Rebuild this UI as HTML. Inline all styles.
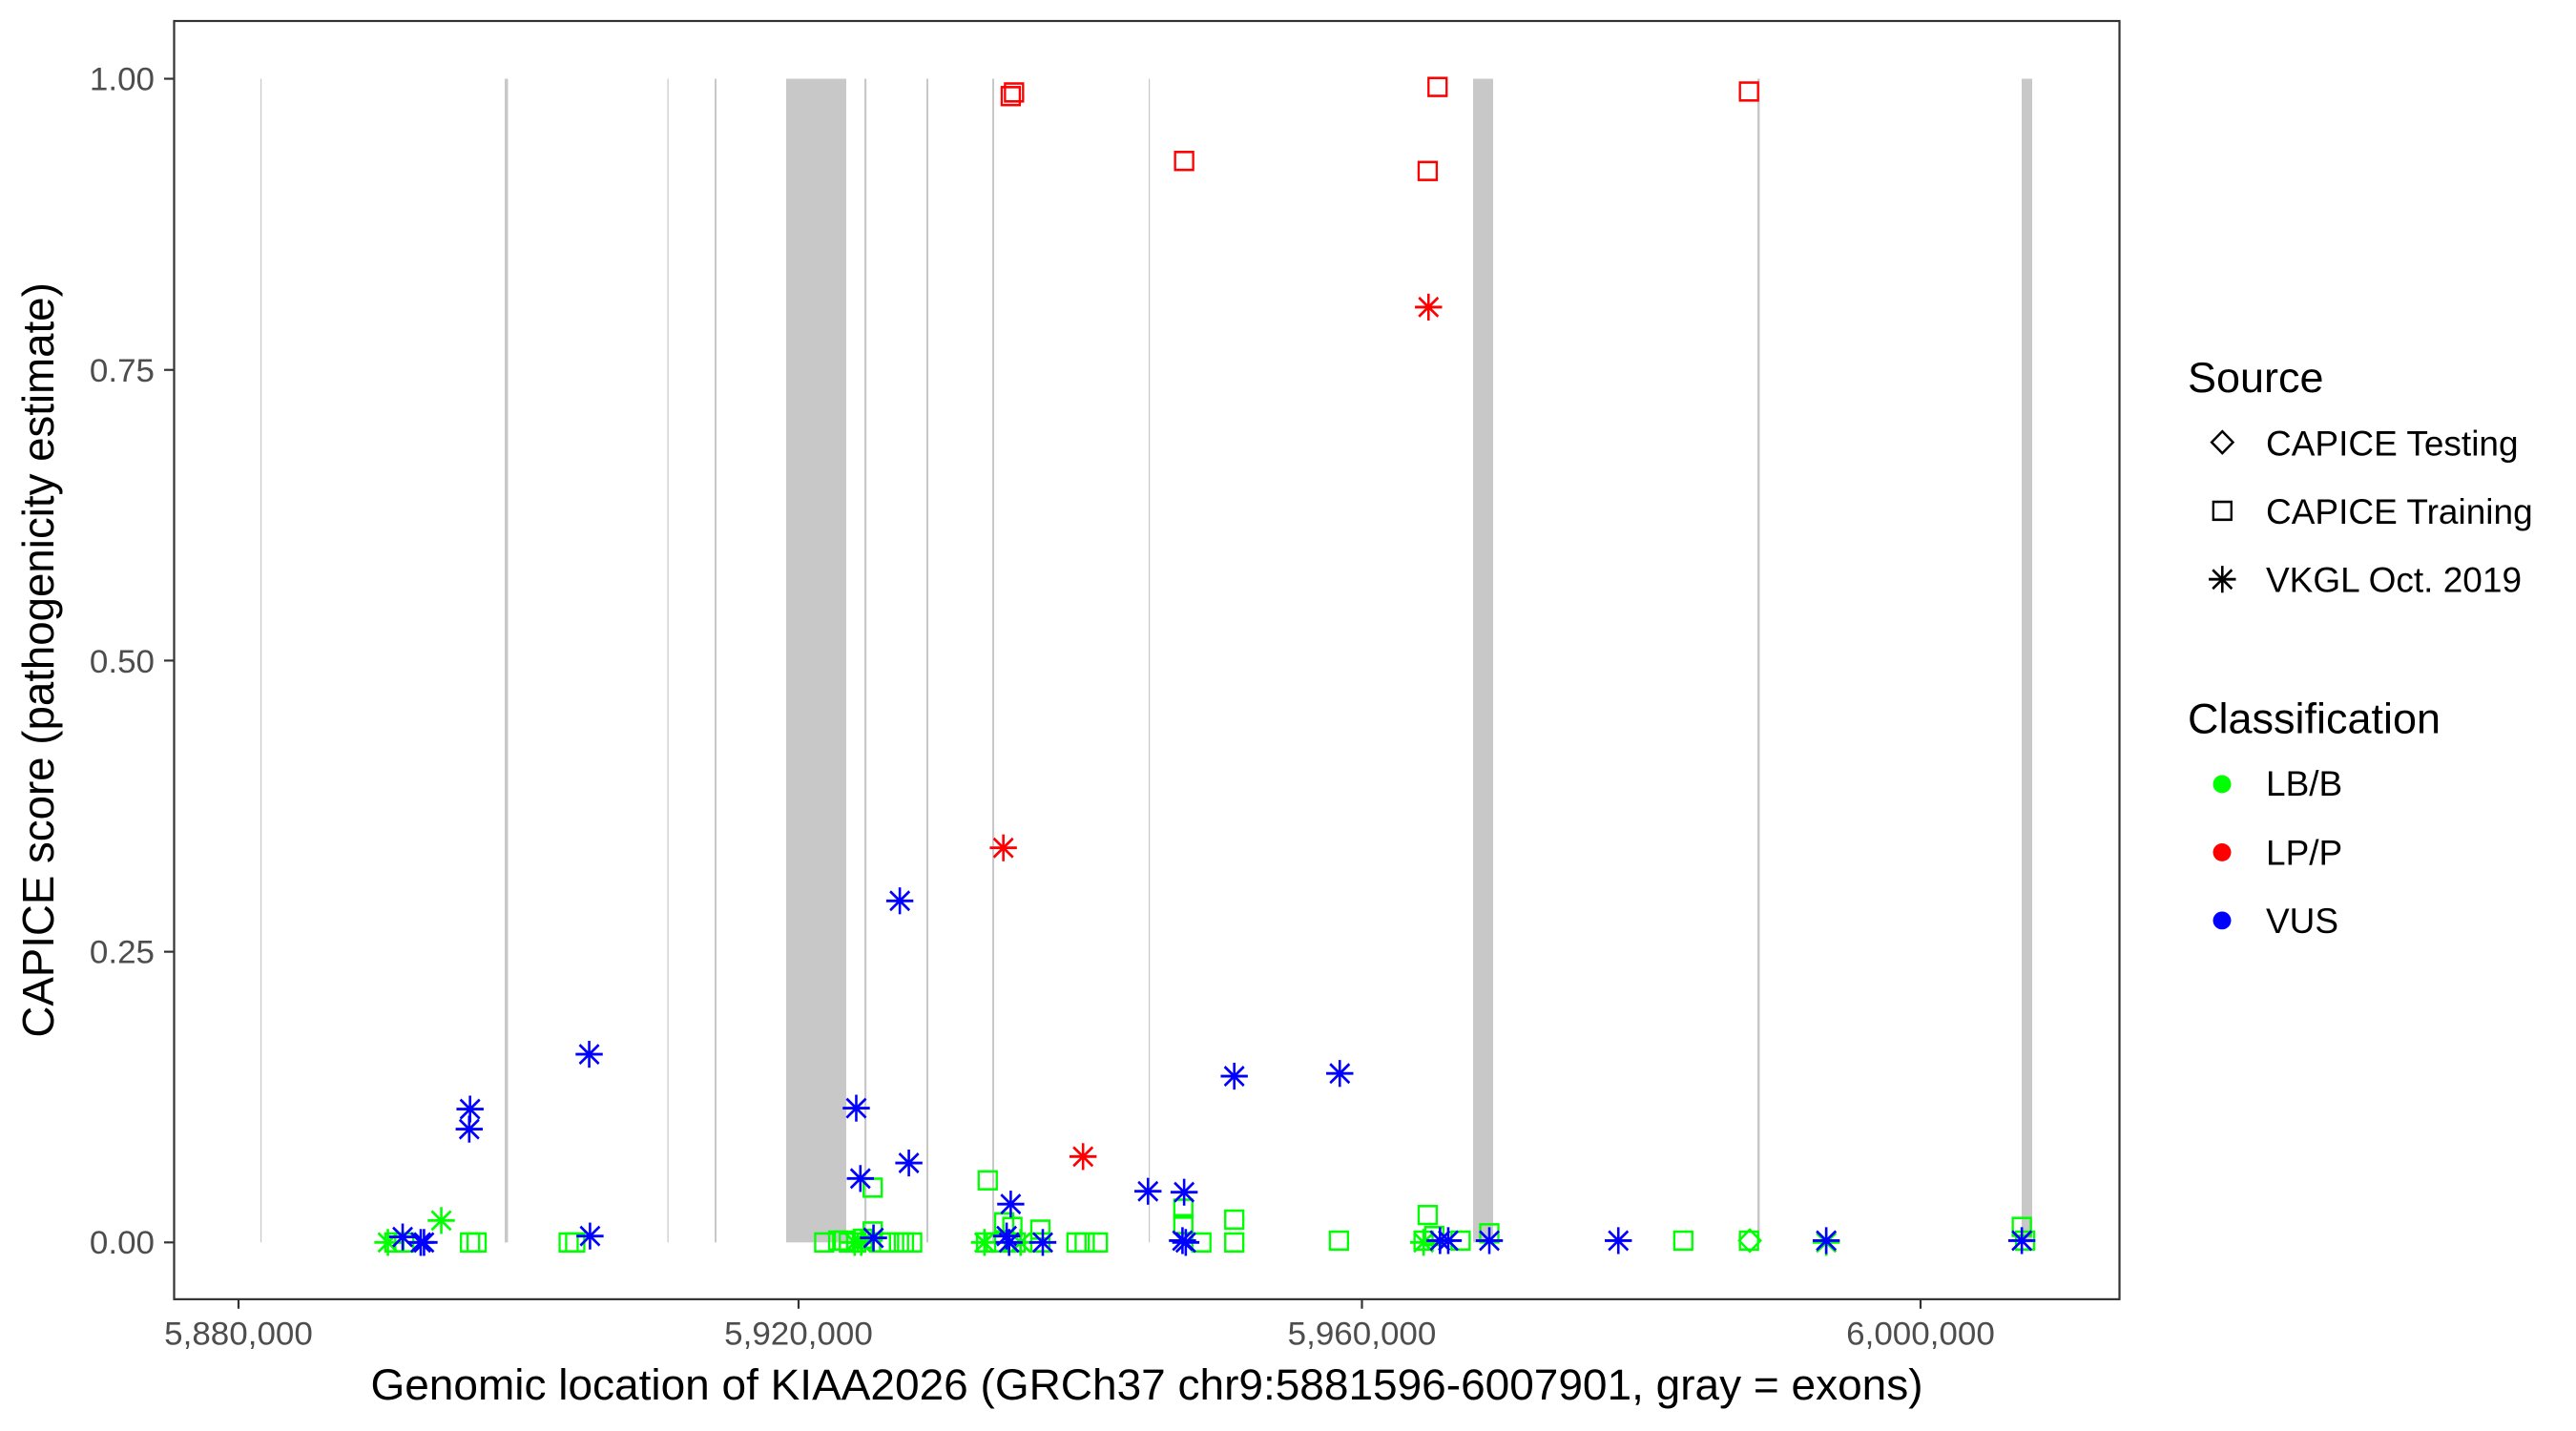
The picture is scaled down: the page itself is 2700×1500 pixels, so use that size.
<!DOCTYPE html>
<html><head><meta charset="utf-8"><style>html,body{margin:0;padding:0;background:#fff}svg{display:block}</style></head>
<body>
<svg width="2700" height="1500" viewBox="0 0 2700 1500" xmlns="http://www.w3.org/2000/svg" font-family="Liberation Sans, Arial, sans-serif">
<defs>
<g id="sq"><rect x="-11" y="-9.8" width="22" height="19.6" fill="none" stroke-width="2.7"/></g>
<g id="st" stroke-width="3"><line x1="-16.5" y1="0" x2="16.5" y2="0"/><line x1="0" y1="-14.7" x2="0" y2="14.7"/><line x1="-11.7" y1="-10.4" x2="11.7" y2="10.4"/><line x1="-11.7" y1="10.4" x2="11.7" y2="-10.4"/></g>
<g id="dm"><path d="M0,-12 L13,0 L0,12 L-13,0 Z" fill="none" stroke-width="2.7"/></g>
</defs>
<rect width="2700" height="1500" fill="#fff"/>
<g transform="translate(0,22) scale(1,0.9925) translate(0,-22)">
<g fill="#c8c8c8">
<rect x="273" y="83" width="1.2" height="1229"/>
<rect x="529" y="83" width="3.5" height="1229"/>
<rect x="699.5" y="83" width="1.2" height="1229"/>
<rect x="749" y="83" width="2" height="1229"/>
<rect x="824" y="83" width="63" height="1229"/>
<rect x="906" y="83" width="2.2" height="1229"/>
<rect x="971" y="83" width="2" height="1229"/>
<rect x="1040" y="83" width="2" height="1229"/>
<rect x="1204" y="83" width="1.2" height="1229"/>
<rect x="1544" y="83" width="21" height="1229"/>
<rect x="1842" y="83" width="2.5" height="1229"/>
<rect x="2119" y="83" width="11" height="1229"/>
</g>
<g transform="translate(0,-1.9) scale(0.8613,0.9647)">
<g stroke="#00ff00">
<use href="#sq" x="480" y="1362"/><use href="#sq" x="492" y="1362"/>
<use href="#sq" x="572" y="1362"/><use href="#sq" x="580" y="1362"/>
<use href="#sq" x="692" y="1362"/><use href="#sq" x="700" y="1362"/>
<use href="#sq" x="1003" y="1362"/><use href="#sq" x="1020" y="1360"/><use href="#sq" x="1027" y="1360"/><use href="#sq" x="1033" y="1362"/><use href="#sq" x="1042" y="1362"/><use href="#sq" x="1050" y="1358"/>
<use href="#sq" x="1062" y="1302"/><use href="#sq" x="1062" y="1350"/><use href="#sq" x="1072" y="1362"/><use href="#sq" x="1082" y="1362"/><use href="#sq" x="1094" y="1362"/><use href="#sq" x="1100" y="1362"/><use href="#sq" x="1110" y="1362"/>
<use href="#sq" x="1202" y="1294"/><use href="#sq" x="1200" y="1362"/><use href="#sq" x="1212" y="1362"/><use href="#sq" x="1222" y="1340"/><use href="#sq" x="1232" y="1345"/><use href="#sq" x="1236" y="1362"/>
<use href="#sq" x="1266" y="1348"/><use href="#sq" x="1266" y="1362"/><use href="#sq" x="1310" y="1362"/><use href="#sq" x="1320" y="1362"/><use href="#sq" x="1336" y="1362"/>
<use href="#sq" x="1440" y="1325"/><use href="#sq" x="1440" y="1342"/><use href="#sq" x="1462" y="1362"/><use href="#sq" x="1502" y="1337"/><use href="#sq" x="1502" y="1362"/>
<use href="#st" x="472" y="1362"/><use href="#st" x="537" y="1338"/><use href="#st" x="1040" y="1362"/><use href="#st" x="1048" y="1362"/><use href="#st" x="1198" y="1362"/><use href="#st" x="1242" y="1362"/>
</g>
<g stroke="#0000ff">
<use href="#st" x="490" y="1356"/><use href="#st" x="512" y="1362"/><use href="#st" x="516" y="1362"/>
<use href="#st" x="572" y="1216"/><use href="#st" x="571" y="1238"/>
<use href="#st" x="717" y="1156"/><use href="#st" x="718" y="1355"/>
<use href="#st" x="1042" y="1215"/><use href="#st" x="1047" y="1292"/><use href="#st" x="1063" y="1357"/>
<use href="#st" x="1095" y="988"/><use href="#st" x="1106" y="1275"/>
<use href="#st" x="1230" y="1320"/><use href="#st" x="1225" y="1355"/><use href="#st" x="1228" y="1362"/><use href="#st" x="1269" y="1362"/>
<use href="#st" x="1397" y="1306"/><use href="#st" x="1441" y="1307"/><use href="#st" x="1439" y="1360"/><use href="#st" x="1443" y="1362"/><use href="#st" x="1502" y="1180"/>
</g>
<g stroke="#ff0000">
<use href="#sq" x="1230" y="107"/><use href="#sq" x="1234" y="103"/><use href="#sq" x="1441" y="178"/>
<use href="#st" x="1221" y="930"/><use href="#st" x="1318" y="1268"/>
</g>
</g>
<g transform="translate(1350,-1.9) scale(0.8613,0.9647)">
<g stroke="#00ff00">
<use href="#sq" x="62" y="1360"/><use href="#sq" x="170" y="1332"/><use href="#sq" x="165" y="1360"/><use href="#sq" x="178" y="1355"/><use href="#sq" x="210" y="1360"/><use href="#sq" x="245" y="1352"/>
<use href="#sq" x="481" y="1360"/><use href="#sq" x="561" y="1360"/><use href="#sq" x="893" y="1345"/><use href="#sq" x="897" y="1360"/>
<use href="#dm" x="562" y="1360"/>
<use href="#st" x="165" y="1362"/><use href="#st" x="655" y="1362"/>
</g>
<g stroke="#0000ff">
<use href="#st" x="63" y="1177"/><use href="#st" x="185" y="1360"/><use href="#st" x="195" y="1360"/><use href="#st" x="245" y="1360"/><use href="#st" x="402" y="1360"/><use href="#st" x="655" y="1360"/><use href="#st" x="893" y="1360"/>
</g>
<g stroke="#ff0000">
<use href="#sq" x="182" y="97"/><use href="#sq" x="170" y="189"/><use href="#sq" x="561" y="102"/>
<use href="#st" x="171" y="338"/>
</g>
<g stroke="#000">
<use href="#dm" x="1137" y="486"/><use href="#sq" x="1137" y="561"/><use href="#st" x="1137" y="636"/>
</g>
</g>
<rect x="182.5" y="22" width="2039" height="1350" fill="none" stroke="#333" stroke-width="2.2"/>
<g stroke="#333" stroke-width="2.2">
<line x1="172" x2="182" y1="83" y2="83"/><line x1="172" x2="182" y1="390.5" y2="390.5"/><line x1="172" x2="182" y1="697.5" y2="697.5"/><line x1="172" x2="182" y1="1005" y2="1005"/><line x1="172" x2="182" y1="1312" y2="1312"/>
<line x1="250" x2="250" y1="1372" y2="1382"/><line x1="837" x2="837" y1="1372" y2="1382"/><line x1="1427.5" x2="1427.5" y1="1372" y2="1382"/><line x1="2013" x2="2013" y1="1372" y2="1382"/>
</g>
<g fill="#4d4d4d" font-size="35" text-anchor="end">
<text x="162" y="95">1.00</text><text x="162" y="403">0.75</text><text x="162" y="710">0.50</text><text x="162" y="1017">0.25</text><text x="162" y="1324">0.00</text>
</g>
<g fill="#4d4d4d" font-size="35" text-anchor="middle">
<text x="250" y="1420">5,880,000</text><text x="837" y="1420">5,920,000</text><text x="1427.5" y="1420">5,960,000</text><text x="2013" y="1420">6,000,000</text>
</g>
<text x="1202" y="1478" font-size="46" text-anchor="middle" fill="#000">Genomic location of KIAA2026 (GRCh37 chr9:5881596-6007901, gray = exons)</text>
<text transform="translate(56,697) rotate(-90)" font-size="46" text-anchor="middle" fill="#000">CAPICE score (pathogenicity estimate)</text>
<g fill="#000">
<text x="2293" y="414" font-size="45">Source</text>
<text x="2375" y="481" font-size="37">CAPICE Testing</text>
<text x="2375" y="553" font-size="37">CAPICE Training</text>
<text x="2375" y="625" font-size="37">VKGL Oct. 2019</text>
<text x="2293" y="774" font-size="45">Classification</text>
<text x="2375" y="840" font-size="37">LB/B</text>
<text x="2375" y="913" font-size="37">LP/P</text>
<text x="2375" y="985" font-size="37">VUS</text>
</g>
<circle cx="2329" cy="828" r="9.5" fill="#00ff00"/>
<circle cx="2329" cy="900" r="9.5" fill="#ff0000"/>
<circle cx="2329" cy="972" r="9.5" fill="#0000ff"/>
</g>
</svg>
</body></html>
